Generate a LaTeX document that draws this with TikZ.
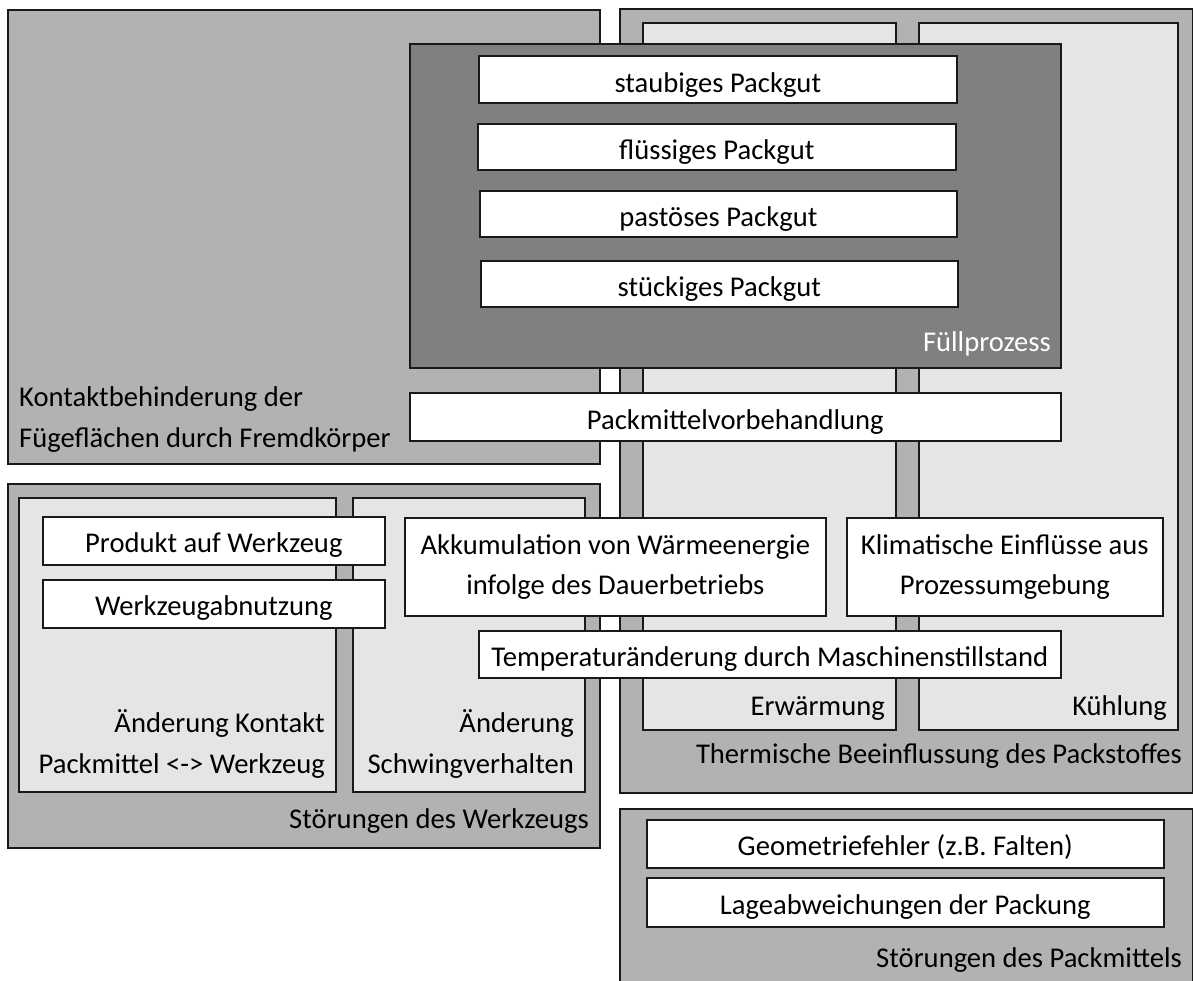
\documentclass[tikz,border=0pt]{standalone}
\usepackage{fontspec}
\setmainfont{Carlito}
\definecolor{midgray}{gray}{0.70}
\definecolor{darkgray}{gray}{0.50}
\definecolor{lightgray}{gray}{0.90}
\definecolor{edge}{gray}{0.10}
\tikzset{
  frame/.style={draw=edge, line width=1.6pt, anchor=north west, inner sep=0pt},
  panel/.style={frame, fill=midgray},
  subpanel/.style={frame, fill=lightgray},
  fillpanel/.style={frame, fill=darkgray},
  item/.style={frame, fill=white},
  itemtext/.style={anchor=base, inner sep=0pt, align=center, text=black},
  tag/.style={anchor=base east, inner sep=0pt, align=right, text=black},
  tagleft/.style={anchor=base west, inner sep=0pt, align=left, text=black},
}
\begin{document}
\begin{tikzpicture}[x=1pt,y=-1pt,font=\fontsize{28.6}{40.5}\selectfont]
\useasboundingbox (0,0) rectangle (1193,981);
\clip (0,0) rectangle (1193,981);
\fill[white] (0,0) rectangle (1193,981);

% foreign matter on the sealing surfaces
\node[panel, minimum width=592pt, minimum height=454pt] (kontakt) at (7,9) {};
\node[tagleft] (kontakttxt) at (19,447) {Kontaktbehinderung der\\Fügeflächen durch Fremdkörper};

% thermal influence on the packaging material
\node[panel, minimum width=573pt, minimum height=784pt] (therm) at (619,8) {};
\node[subpanel, minimum width=253pt, minimum height=707pt] (erw) at (642,22) {};
\node[subpanel, minimum width=259pt, minimum height=707pt] (kuehl) at (918,22) {};
\node[tag] (erwtxt) at (885,715) {Erwärmung};
\node[tag] (kuehltxt) at (1167,715) {Kühlung};
\node[tag] (thermtxt) at (1182,763) {Thermische Beeinflussung des Packstoffes};

% filling process
\node[fillpanel, minimum width=651pt, minimum height=324pt] (fuell) at (409,43) {};
\node[tag, text=white] (fuelltxt) at (1051,352) {Füllprozess};
\node[item, minimum width=478pt, minimum height=47pt] (staub) at (478,55) {};
\node[itemtext] (staubtxt) at ([yshift=-13pt]staub.center) {staubiges Packgut};
\node[item, minimum width=478pt, minimum height=46pt] (fluess) at (477,123) {};
\node[itemtext] (fluesstxt) at ([yshift=-13pt]fluess.center) {flüssiges Packgut};
\node[item, minimum width=477pt, minimum height=46pt] (past) at (479,190) {};
\node[itemtext] (pasttxt) at ([yshift=-13pt]past.center) {pastöses Packgut};
\node[item, minimum width=477pt, minimum height=46pt] (stueck) at (480,260) {};
\node[itemtext] (stuecktxt) at ([yshift=-13pt]stueck.center) {stückiges Packgut};

\node[item, minimum width=651pt, minimum height=48pt] (vorbeh) at (409,392) {};
\node[itemtext] (vorbehtxt) at ([yshift=-13pt]vorbeh.center) {Packmittelvorbehandlung};

% tool disturbances
\node[panel, minimum width=592pt, minimum height=364pt] (werkz) at (7,483) {};
\node[subpanel, minimum width=317pt, minimum height=294pt] (kontakt2) at (18,497) {};
\node[subpanel, minimum width=232pt, minimum height=294pt] (schwing) at (352,497) {};
\node[tag] (kontakt2txt) at (325,773) {Änderung Kontakt\\Packmittel <-> Werkzeug};
\node[tag] (schwingtxt) at (574,773) {Änderung\\Schwingverhalten};
\node[tag] (werkztxt) at (589,828) {Störungen des Werkzeugs};
\node[item, minimum width=342pt, minimum height=48pt] (produkt) at (42,516) {};
\node[itemtext] (produkttxt) at ([yshift=-12pt]produkt.center) {Produkt auf Werkzeug};
\node[item, minimum width=342pt, minimum height=48pt] (abnutz) at (42,579) {};
\node[itemtext] (abnutztxt) at ([yshift=-12pt]abnutz.center) {Werkzeugabnutzung};

% heat related boxes spanning several panels
\node[item, minimum width=421pt, minimum height=98pt] (akku) at (404,517) {};
\node[itemtext] (akkutxt) at ([yshift=-28pt]akku.center) {Akkumulation von Wärmeenergie\\infolge des Dauerbetriebs};
\node[item, minimum width=316pt, minimum height=98pt] (klima) at (846,517) {};
\node[itemtext] (klimatxt) at ([yshift=-28pt]klima.center) {Klimatische Einflüsse aus\\Prozessumgebung};
\node[item, minimum width=582pt, minimum height=47pt] (stillst) at (478,630) {};
\node[itemtext] (stillsttxt) at ([yshift=-12pt]stillst.center) {Temperaturänderung durch Maschinenstillstand};

% packaging disturbances
\node[panel, minimum width=573pt, minimum height=200pt] (packm) at (619,808) {};
\node[item, minimum width=517pt, minimum height=48pt] (geom) at (646,819) {};
\node[itemtext] (geomtxt) at ([yshift=-12pt]geom.center) {Geometriefehler (z.B. Falten)};
\node[item, minimum width=517pt, minimum height=49pt] (lage) at (646,877) {};
\node[itemtext] (lagetxt) at ([yshift=-12pt]lage.center) {Lageabweichungen der Packung};
\node[tag] (packmtxt) at (1182,967) {Störungen des Packmittels};
\end{tikzpicture}
\end{document}
